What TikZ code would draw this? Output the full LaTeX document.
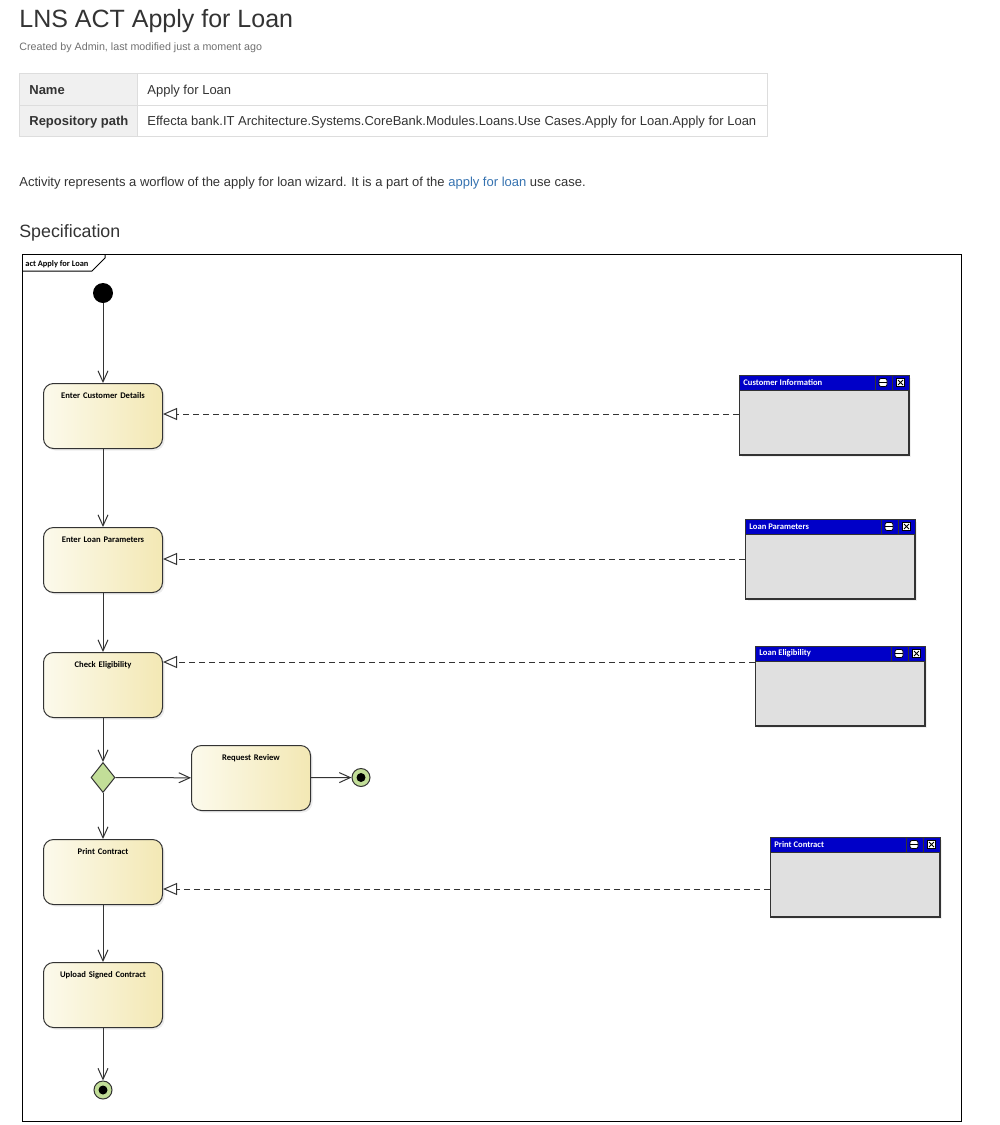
\documentclass[tikz,border=0pt]{standalone}
\usepackage{fontspec}
\setmainfont{Liberation Sans}
\newfontfamily\eafont{Carlito}
\usetikzlibrary{arrows.meta,shapes.geometric,shadows,calc}
\tikzset{every picture/.style={line width=0.75pt}}

\definecolor{pagetext}{HTML}{333333}
\definecolor{metagray}{HTML}{707070}
\definecolor{cellgray}{HTML}{F0F0F0}
\definecolor{cellline}{HTML}{DDDDDD}
\definecolor{linkblue}{HTML}{3572B0}
\definecolor{actleft}{HTML}{FCFAEC}
\definecolor{actright}{HTML}{F3E8B4}
\definecolor{nodegreen}{HTML}{C2DE98}
\definecolor{objhead}{HTML}{0000C8}
\definecolor{objbody}{HTML}{E0E0E0}

\tikzset{
  pagefont/.style={anchor=base west, inner sep=0pt, text=pagetext},
  eatext/.style={font=\eafont\bfseries\fontsize{8.6}{10}\selectfont},
  action/.style={eatext, draw=black!80, line width=1pt, rounded corners=10pt,
    left color=actleft, right color=actright, minimum width=119pt,
    text width=115pt, align=center, inner sep=0pt, text height=15pt, text depth=50pt,
    drop shadow={shadow xshift=2pt, shadow yshift=-2pt, opacity=0.15}},
  initial/.style={circle, fill=black, minimum size=20pt, inner sep=0pt},
  final/.style={circle, draw=black!80, line width=1pt, fill=nodegreen, minimum size=18pt, inner sep=0pt,
    path picture={\fill[black] (path picture bounding box.center) circle (4.5pt);}},
  decision/.style={diamond, draw=black!80, line width=1pt, fill=nodegreen, minimum width=24pt,
    minimum height=30pt, inner sep=0pt},
  flow/.style={draw=black!80, line width=1pt, -{Straight Barb[length=11pt,width=10pt]}},
  usage/.style={draw=black!80, line width=1pt, dash pattern=on 6pt off 4pt,
    -{Triangle[open,length=14pt,width=12pt,fill=white]}},
  objbox/.style={draw=black!80, line width=1pt, fill=objbody, minimum width=169pt, minimum height=79pt,
    inner sep=0pt, drop shadow={shadow xshift=2pt, shadow yshift=-2pt, opacity=0.12}},
  objtitle/.style={eatext, text=white, inner sep=0pt}
}

\begin{document}
\begin{tikzpicture}[x=1pt, y=-1pt]
    \useasboundingbox (0,0) rectangle (1000,1125);

    % Page header
    \node[pagefont, font=\fontsize{25}{29}\selectfont] (title) at (19,27) {LNS ACT Apply for Loan};
    \node[pagefont, text=metagray, font=\fontsize{10.7}{13}\selectfont] (meta) at (19,50)
        {Created by Admin, last modified just a moment ago};

    % Table
    \fill[cellgray] (19,73) rectangle (137,136);
    \draw[cellline] (19,73) rectangle (767,136);
    \draw[cellline] (19,105) -- (767,105);
    \draw[cellline] (137,73) -- (137,136);
    \node[pagefont, font=\fontsize{13}{16}\selectfont\bfseries] (namekey) at (29,94) {Name};
    \node[pagefont, font=\fontsize{13}{16}\selectfont] (nameval) at (147,94) {Apply for Loan};
    \node[pagefont, font=\fontsize{13}{16}\selectfont\bfseries] (pathkey) at (29,125) {Repository path};
    \node[pagefont, font=\fontsize{13}{16}\selectfont] (pathval) at (147,125)
        {Effecta bank.IT Architecture.Systems.CoreBank.Modules.Loans.Use Cases.Apply for Loan.Apply for Loan};

    % Description
    \node[pagefont, font=\fontsize{13}{16}\selectfont] (desc) at (19,186)
        {Activity represents a worflow of the apply for loan wizard. It is a part of the \textcolor{linkblue}{apply for loan} use case.};
    \node[pagefont, font=\fontsize{17.8}{21}\selectfont] (spec) at (19,237) {Specification};

    % Diagram frame
    \draw[line width=1pt] (22,254) rectangle (961,1121);
    \draw[line width=1pt] (22,271) -- (92,271) -- (105,258) -- (105,254);
    \node[eatext, anchor=base west, inner sep=0pt, font=\eafont\bfseries\fontsize{8.4}{10}\selectfont] (frametag) at (25,266) {act Apply for Loan};

    % Activity nodes
    \node[initial] (start) at (103,293) {};
    \node[action, anchor=north] (ecd) at (103,383) {Enter Customer Details};
    \node[action, anchor=north] (elp) at (103,527) {Enter Loan Parameters};
    \node[action, anchor=north] (chk) at (103,652) {Check Eligibility};
    \node[decision] (dec) at (103,777.5) {};
    \node[action, anchor=north] (rr) at (251,745) {Request Review};
    \node[final] (finreview) at (361,777.5) {};
    \node[action, anchor=north] (pc) at (103,839) {Print Contract};
    \node[action, anchor=north] (usc) at (103,962) {Upload Signed Contract};
    \node[final] (finend) at (103,1090) {};

    % Control flows
    \draw[flow] (start) -- (ecd);
    \draw[flow] (ecd) -- (elp);
    \draw[flow] (elp) -- (chk);
    \draw[flow] (chk) -- (dec);
    \draw[flow] (dec) -- (rr);
    \draw[flow] (rr) -- (finreview);
    \draw[flow] (dec) -- (pc);
    \draw[flow] (pc) -- (usc);
    \draw[flow] (usc) -- (finend);

    % Object boxes
    \foreach \ox/\oy/\oname/\otitle in {739/375/ci/Customer Information, 745/519/lp/Loan Parameters,
        755/646/le/Loan Eligibility, 770/837/pco/Print Contract}{
        \node[objbox, anchor=north west] (\oname) at (\ox,\oy) {};
        \fill[objhead] (\oname.north west) rectangle ($(\oname.north east)+(0,15)$);
        \draw[black!80, line width=1pt] (\oname.north west) rectangle (\oname.south east);
        \draw[black!80] ($(\oname.north west)+(0,15)$) -- ($(\oname.north east)+(0,15)$);
        \draw[black!80] ($(\oname.north east)+(-34,0)$) -- ++(0,15);
        \draw[black!80] ($(\oname.north east)+(-17,0)$) -- ++(0,15);
        \draw[fill=white, rounded corners=2pt] ($(\oname.north east)+(-30,3.5)$) rectangle ++(8,8);
        \draw ($(\oname.north east)+(-30,7.5)$) -- ++(8,0);
        \draw[fill=white] ($(\oname.north east)+(-12.5,3.5)$) rectangle ++(8,8);
        \draw ($(\oname.north east)+(-11,5)$) -- ++(5,5) ($(\oname.north east)+(-11,10)$) -- ++(5,-5);
        \node[objtitle, anchor=west] (\oname-title) at ($(\oname.north west)+(4,7.5)$) {\otitle};
    }

    % Object flows
    \draw[usage] (ci.west |- 0,414) -- (ecd.east |- 0,414);
    \draw[usage] (lp.west |- 0,559) -- (elp.east |- 0,559);
    \draw[usage] (le.west |- 0,662) -- (chk.east |- 0,662);
    \draw[usage] (pco.west |- 0,889) -- (pc.east |- 0,889);
\end{tikzpicture}
\end{document}
